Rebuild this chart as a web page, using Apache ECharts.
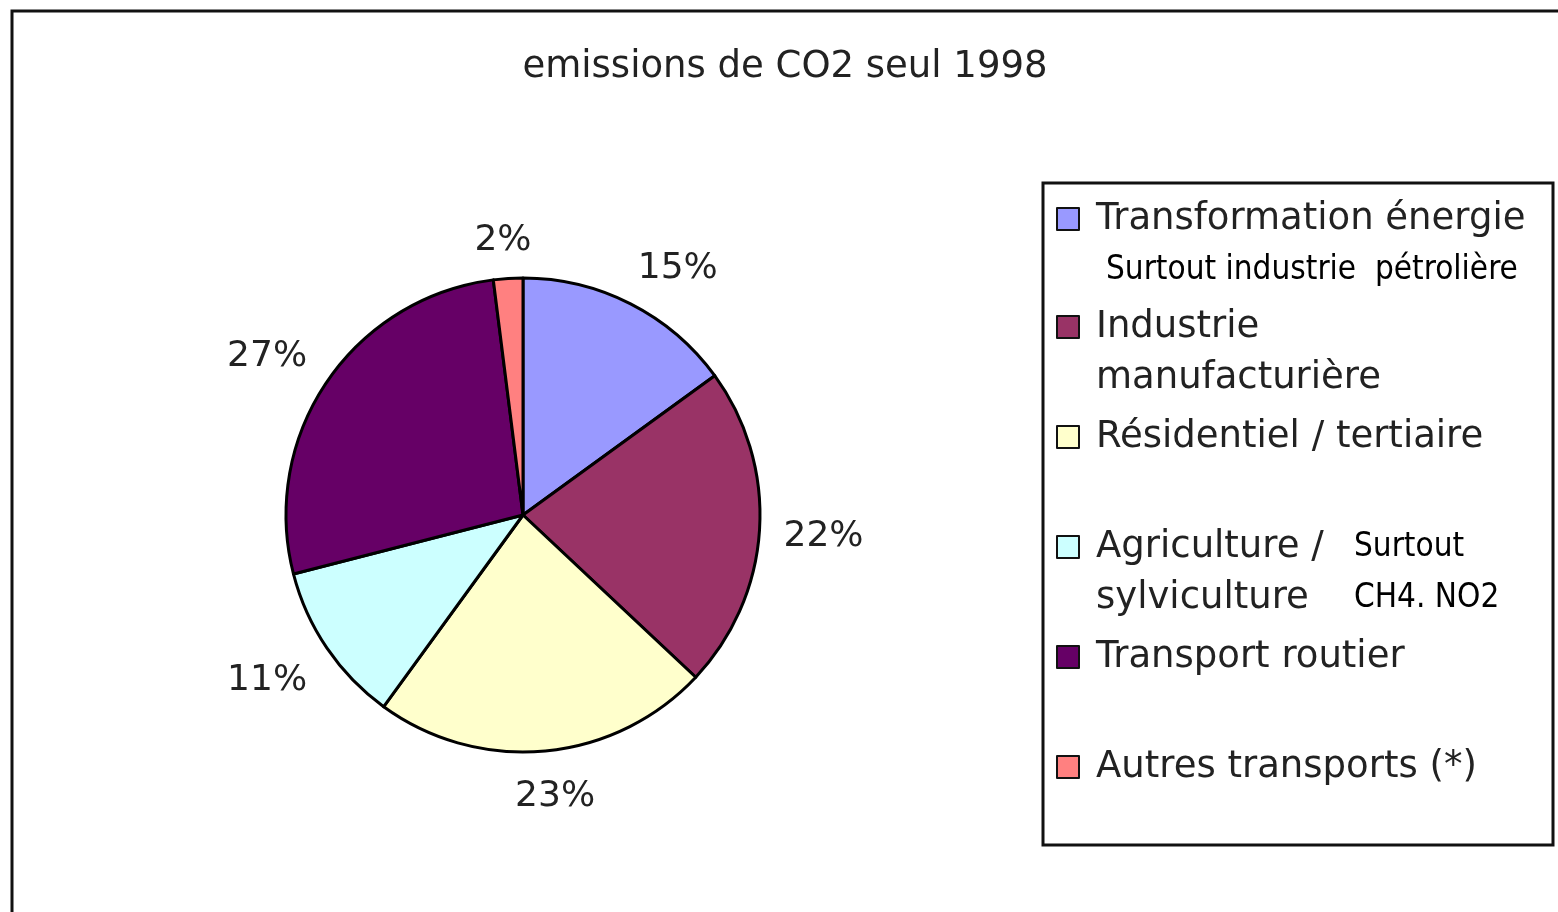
<!DOCTYPE html>
<html>
<head>
<meta charset="utf-8">
<script src="https://cdn.jsdelivr.net/npm/echarts@6/dist/echarts.min.js"></script>
<style>html,body{margin:0;padding:0;background:#fff;}#main{width:1558px;height:912px;}</style>
</head>
<body>
<div id="main"></div>
<script>
const titleText = 'emissions de CO2 seul 1998';
const categories = ['Transformation énergie', 'Industrie manufacturière', 'Résidentiel / tertiaire', 'Agriculture / sylviculture', 'Transport routier', 'Autres transports (*)'];
const values = [15, 22, 23, 11, 27, 2];
const colors = ['#9999FF', '#993366', '#FFFFCC', '#CCFFFF', '#660066', '#FF8080'];
const legendTexts = [
  '{a|Transformation énergie}\n{n1|Surtout industrie  pétrolière}',
  '{a|Industrie}\n{a|manufacturière}',
  '{a|Résidentiel / tertiaire}\n{a| }',
  '{aw|Agriculture /}{n|Surtout}\n{aw|sylviculture}{n|CH4. NO2}',
  '{a|Transport routier}\n{a| }',
  '{a|Autres transports (*)}\n{a| }'
];

const FONT = "'DejaVu Sans', Verdana, sans-serif";
const NOTE_FONT = "'DejaVu Sans Condensed', 'Liberation Sans Narrow', sans-serif";
var chart = echarts.init(document.getElementById('main'), null, {renderer: 'canvas'});

function clamp(v) { return Math.max(-1, Math.min(1, v)); }

const option = {
  backgroundColor: '#ffffff',
  animation: false,
  title: {
    text: titleText,
    left: 785,
    textAlign: 'center',
    top: 49,
    padding: 0,
    textStyle: {fontFamily: FONT, fontSize: 37, fontWeight: 'normal', color: '#222'}
  },
  graphic: [
    {type: 'rect', shape: {x: 12, y: 11, width: 1600, height: 1000}, style: {fill: 'none', stroke: '#111', lineWidth: 3}, silent: true},
    {type: 'rect', shape: {x: 1043, y: 183, width: 510, height: 662}, style: {fill: 'none', stroke: '#111', lineWidth: 3}, silent: true}
  ],
  legend: {
    orient: 'vertical',
    left: 1056,
    top: 200.5,
    padding: 0,
    itemGap: 22,
    itemWidth: 22,
    itemHeight: 22,
    icon: 'rect',
    itemStyle: {borderColor: '#111', borderWidth: 2},
    data: categories,
    formatter: function (name) { return legendTexts[categories.indexOf(name)]; },
    textStyle: {
      padding: [51, 0, 0, 12],
      color: '#222',
      rich: {
        a: {fontFamily: FONT, fontSize: 37, lineHeight: 51, color: '#222'},
        aw: {fontFamily: FONT, fontSize: 37, lineHeight: 51, color: '#222', width: 258},
        n: {fontFamily: NOTE_FONT, fontSize: 33, lineHeight: 51, color: '#000'},
        n1: {fontFamily: NOTE_FONT, fontSize: 33, lineHeight: 51, color: '#000', padding: [0, 0, 0, 10]}
      }
    }
  },
  series: [{
    type: 'pie',
    center: [523, 515],
    radius: 237,
    startAngle: 90,
    clockwise: true,
    avoidLabelOverlap: false,
    itemStyle: {borderColor: '#000', borderWidth: 3},
    label: {
      show: true,
      position: 'outside',
      formatter: '{d}%',
      fontFamily: FONT,
      fontSize: 36,
      color: '#222'
    },
    labelLine: {show: false},
    emphasis: {scale: false},
    labelLayout: function (params) {
      try {
        const data = chart.getModel().getSeriesByIndex(0).getData();
        const lay = data.getItemLayout(params.dataIndex);
        const mid = (lay.startAngle + lay.endAngle) / 2;
        const dx = Math.cos(mid), dy = Math.sin(mid);
        const w = params.labelRect.width, h = params.labelRect.height;
        const g = 24;
        return {
          x: lay.cx + dx * (lay.r + g) + clamp(2 * dx) * w / 2,
          y: lay.cy + dy * (lay.r + g) + clamp(1.5 * dy) * h / 2 + 4,
          align: 'center',
          verticalAlign: 'middle'
        };
      } catch (e) { return {}; }
    },
    data: categories.map(function (c, i) {
      return {name: c, value: values[i], itemStyle: {color: colors[i]}};
    })
  }]
};
chart.setOption(option);
</script>
</body>
</html>
